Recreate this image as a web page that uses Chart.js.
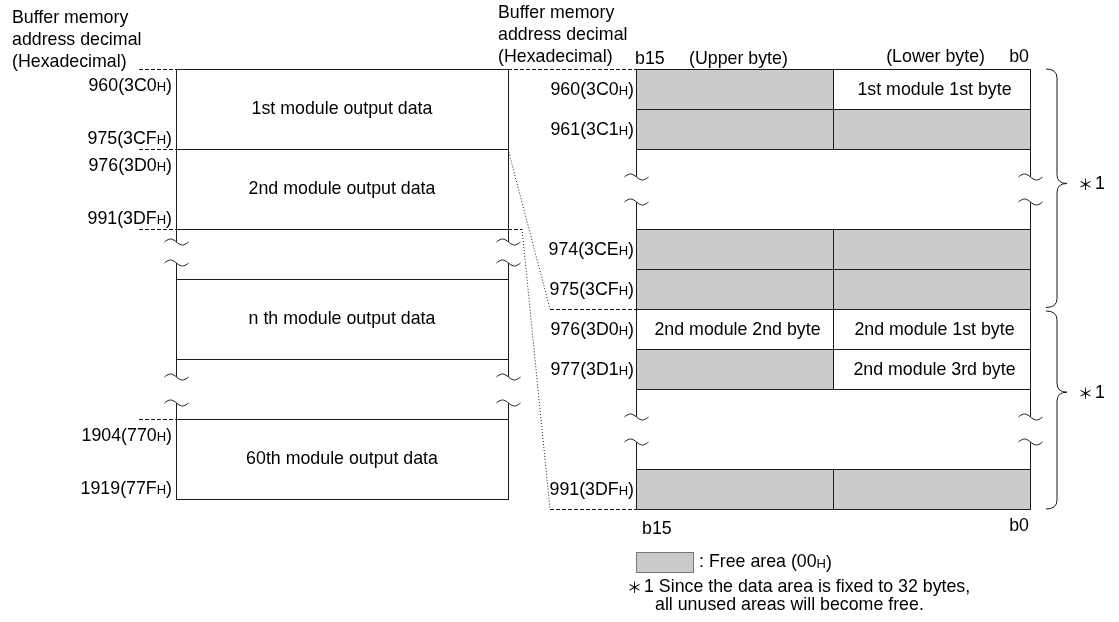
<!DOCTYPE html>
<html>
<head>
<meta charset="utf-8">
<script src="https://cdn.jsdelivr.net/npm/chart.js@4.4.1/dist/chart.umd.min.js"></script>
<style>
  html, body { margin: 0; padding: 0; background: #fff; }
  #wrap { width: 1119px; height: 622px; }
</style>
</head>
<body>
<div id="wrap"><canvas id="mapa" width="1119" height="622"></canvas></div>
<script>
// mapa izquierdo: un bloque por modulo, null = corte
const moduleNames = ['1st', '2nd', null, 'n th', null, '60th'];
const moduleStart = ['960(3C0H)', '976(3D0H)', null, null, null, '1904(770H)'];
const moduleEnd   = ['975(3CFH)', '991(3DFH)', null, null, null, '1919(77FH)'];

// mapa derecho: una fila por palabra, null = corte, '' = area libre
const wordAddr  = ['960(3C0H)', '961(3C1H)', null, '974(3CEH)', '975(3CFH)', '976(3D0H)', '977(3D1H)', null, '991(3DFH)'];
const upperByte = ['', '', null, '', '', '2nd module 2nd byte', '', null, ''];
const lowerByte = ['1st module 1st byte', '', null, '', '', '2nd module 1st byte', '2nd module 3rd byte', null, ''];

// llaves *1: desde / hasta
const braceFrom = ['960(3C0H)', '976(3D0H)'];
const braceTo   = ['975(3CFH)', '991(3DFH)'];

const headerLines = ['Buffer memory', 'address decimal', '(Hexadecimal)'];
const noteLines = ['Since the data area is fixed to 32 bytes,', 'all unused areas will become free.'];

// layout (pixeles en x, filas de 40px en y)
const L = {
  left: [176, 508], right: [636, 833, 1030],
  leftBreaks: [{ len: 1.25, waves: [0.325, 0.85] }, { len: 1.5, waves: [0.45, 1.1] }],
  rightBreak: { len: 2, waves: [0.7, 1.325] },
  font: '"Liberation Sans", Arial, sans-serif', size: 17.8,
  star: '"Noto Sans CJK JP", "Noto Sans CJK SC", sans-serif',
  grey: '#cbcbcb', line: '#1a1a1a'
};

function drawLabel(ctx, label, xr, yc, size) {
  // '960(3C0H)' -> H pequeña
  const m = label.match(/^(.*)H\)$/);
  const big = size + 'px ' + L.font, small = Math.round(size * 0.72) + 'px ' + L.font;
  ctx.textAlign = 'left';
  ctx.textBaseline = 'alphabetic';
  const base = yc + size * 0.36;
  ctx.font = big; const wEnd = ctx.measureText(')').width; const wMain = ctx.measureText(m[1]).width;
  ctx.font = small; const wH = ctx.measureText('H').width;
  let x = xr - wEnd - wH - wMain;
  ctx.font = big; ctx.fillText(m[1], x, base); x += wMain;
  ctx.font = small; ctx.fillText('H', x, base); x += wH;
  ctx.font = big; ctx.fillText(')', x, base);
}

// asterisco de nota (*1), devuelve el ancho
function star(ctx, x, yc) {
  ctx.save();
  ctx.font = '15px ' + L.star;
  ctx.textAlign = 'left'; ctx.textBaseline = 'middle';
  ctx.fillText('\uFF0A', x, yc);
  const w = ctx.measureText('\uFF0A').width;
  ctx.restore();
  return w;
}

function wave(ctx, cx, cy) {
  ctx.beginPath();
  for (let t = 0; t <= 1.0001; t += 0.05) {
    const xx = cx - 12 + 24 * t, yy = cy - 3 * Math.sin(2 * Math.PI * t);
    if (t === 0) ctx.moveTo(xx, yy); else ctx.lineTo(xx, yy);
  }
  ctx.stroke();
}

function seg(ctx, x1, y1, x2, y2, dash) {
  ctx.save();
  ctx.setLineDash(dash || []);
  ctx.beginPath(); ctx.moveTo(x1, y1); ctx.lineTo(x2, y2); ctx.stroke();
  ctx.restore();
}

function brace(ctx, x0, yTop, yBot, yTip) {
  const xm = x0 + 11, xt = x0 + 21;
  ctx.beginPath();
  ctx.moveTo(x0, yTop);
  ctx.quadraticCurveTo(xm, yTop, xm, yTop + 9);
  ctx.lineTo(xm, yTip - 9);
  ctx.quadraticCurveTo(xm, yTip, xt, yTip);
  ctx.quadraticCurveTo(xm, yTip, xm, yTip + 9);
  ctx.lineTo(xm, yBot - 9);
  ctx.quadraticCurveTo(xm, yBot, x0, yBot);
  ctx.stroke();
}

const mapaPlugin = {
  id: 'mapa',
  afterDraw(chart) {
    const { ctx, scales: { x, y } } = chart;
    const px = v => x.getPixelForValue(v);
    const py = v => y.getPixelForValue(v);
    const fs = L.size;
    ctx.save();
    ctx.strokeStyle = L.line;
    ctx.fillStyle = '#000';
    ctx.lineWidth = 1;

    // encabezados
    ctx.font = fs + 'px ' + L.font;
    ctx.textAlign = 'left'; ctx.textBaseline = 'middle';
    headerLines.forEach((t, i) => ctx.fillText(t, px(12), py(-1.275 + i * 0.55)));
    headerLines.forEach((t, i) => ctx.fillText(t, px(498), py(-1.4 + i * 0.55)));
    ctx.fillText('b15', px(635), py(-0.25));
    ctx.fillText('(Upper byte)', px(689), py(-0.25));
    ctx.textAlign = 'right';
    ctx.fillText('(Lower byte)', px(985), py(-0.3));
    ctx.fillText('b0', px(1029), py(-0.3));

    // ---- mapa izquierdo
    const [lx0, lx1] = L.left.map(px);
    let cur = 0, bi = 0;
    const boxes = [];
    moduleNames.forEach((name, i) => {
      if (name) {
        const top = cur, bot = cur + 2;
        boxes.push({ i, top, bot });
        ctx.strokeRect(lx0 + 0.5, py(top) + 0.5, lx1 - lx0, py(bot) - py(top));
        ctx.font = fs + 'px ' + L.font;
        ctx.textAlign = 'center'; ctx.textBaseline = 'middle';
        ctx.fillText(name + ' module output data', (lx0 + lx1) / 2, py(top + 1));
        if (moduleStart[i]) {
          drawLabel(ctx, moduleStart[i], px(172), py(top) + 16, fs);
          drawLabel(ctx, moduleEnd[i], px(172), py(bot) - 11, fs);
          seg(ctx, px(139), py(top) + 0.5, lx0, py(top) + 0.5, [4, 2]);
          if (moduleNames[i + 1] === null) seg(ctx, px(139), py(bot) + 0.5, lx0, py(bot) + 0.5, [4, 2]);
        }
        cur = bot;
      } else {
        const b = L.leftBreaks[bi++];
        [lx0, lx1].forEach(xx => {
          seg(ctx, xx + 0.5, py(cur), xx + 0.5, py(cur + b.waves[0]));
          seg(ctx, xx + 0.5, py(cur + b.waves[1]), xx + 0.5, py(cur + b.len));
          b.waves.forEach(w => wave(ctx, xx + 0.5, py(cur + w)));
        });
        cur += b.len;
      }
    });

    // ---- mapa derecho
    const [r0, r1, r2] = L.right.map(px);
    const rowTop = {};
    cur = 0;
    wordAddr.forEach((addr, i) => {
      if (addr) {
        const t = py(cur), b = py(cur + 1);
        rowTop[addr] = cur;
        [[r0, r1, upperByte[i]], [r1, r2, lowerByte[i]]].forEach(([a, c, txt]) => {
          ctx.fillStyle = txt ? '#fff' : L.grey;
          ctx.fillRect(a, t, c - a, b - t);
          ctx.strokeRect(a + 0.5, t + 0.5, c - a, b - t);
          if (txt) {
            ctx.fillStyle = '#000';
            ctx.font = fs + 'px ' + L.font;
            ctx.textAlign = 'center'; ctx.textBaseline = 'middle';
            ctx.fillText(txt, (a + c) / 2 + 3, (t + b) / 2 + 1);
          }
        });
        ctx.fillStyle = '#000';
        drawLabel(ctx, addr, px(634), (t + b) / 2, fs);
        cur += 1;
      } else {
        const b = L.rightBreak;
        [r0, r2].forEach(xx => {
          seg(ctx, xx + 0.5, py(cur), xx + 0.5, py(cur + b.waves[0]));
          seg(ctx, xx + 0.5, py(cur + b.waves[1]), xx + 0.5, py(cur + b.len));
          b.waves.forEach(w => wave(ctx, xx + 0.5, py(cur + w)));
        });
        cur += b.len;
      }
    });
    const rightEnd = cur;
    ctx.fillStyle = '#000';
    ctx.font = fs + 'px ' + L.font;
    ctx.textAlign = 'left'; ctx.textBaseline = 'middle';
    ctx.fillText('b15', px(642), py(rightEnd + 0.5));
    ctx.textAlign = 'right';
    ctx.fillText('b0', px(1029), py(rightEnd + 0.42));

    // ---- conectores (bloque 2 -> filas 976..991)
    const b1 = boxes[0], b2 = boxes[1];
    const expTop = rowTop[moduleStart[b2.i]], expBot = rightEnd;
    seg(ctx, lx1, py(b1.top) + 0.5, r0, py(rowTop[moduleStart[b1.i]]) + 0.5, [4, 2]);
    seg(ctx, lx1, py(b2.top), px(550), py(expTop), [1, 2]);
    seg(ctx, px(550), py(expTop) + 0.5, r0, py(expTop) + 0.5, [4, 2]);
    seg(ctx, lx1, py(b2.bot) + 0.5, px(522), py(b2.bot) + 0.5, [4, 2]);
    seg(ctx, px(522), py(b2.bot), px(550), py(expBot), [1, 2]);
    seg(ctx, px(550), py(expBot) + 0.5, r0, py(expBot) + 0.5, [4, 2]);

    // ---- llaves *1
    braceFrom.forEach((f, k) => {
      const t = py(rowTop[f]) + (k ? 2 : 0);
      const endRow = rowTop[braceTo[k]] + 1;
      const b = py(endRow) - (k ? 0 : 1.5);
      const tip = t + (b - t) * (k ? 0.41 : 0.48);
      brace(ctx, px(1046), t, b, tip);
      const sw = star(ctx, px(1078), tip + 1);
      ctx.font = fs + 'px ' + L.font;
      ctx.textAlign = 'left'; ctx.textBaseline = 'middle';
      ctx.fillText('1', px(1078) + sw + 2, tip + 1);
    });

    // ---- leyenda y nota
    const ly = py(rightEnd + 1.075);
    ctx.fillStyle = L.grey;
    ctx.fillRect(r0, ly, px(693) - r0, 20);
    ctx.strokeStyle = '#777';
    ctx.strokeRect(r0 + 0.5, ly + 0.5, px(693) - r0, 20);
    ctx.fillStyle = '#000';
    ctx.font = fs + 'px ' + L.font;
    ctx.textAlign = 'left'; ctx.textBaseline = 'middle';
    const fx = px(699), fy = ly + 10;
    ctx.fillText(': Free area (00', fx, fy);
    let w = ctx.measureText(': Free area (00').width;
    ctx.font = Math.round(fs * 0.72) + 'px ' + L.font;
    ctx.textBaseline = 'alphabetic';
    ctx.fillText('H', fx + w, fy + fs * 0.36);
    w += ctx.measureText('H').width;
    ctx.font = fs + 'px ' + L.font;
    ctx.fillText(')', fx + w, fy + fs * 0.36);
    ctx.textBaseline = 'middle';
    const ny = py(rightEnd + 1.95);
    const sw = star(ctx, px(627), ny);
    ctx.font = fs + 'px ' + L.font;
    ctx.fillText('1 ' + noteLines[0], px(627) + sw + 2, ny);
    ctx.fillText(noteLines[1], px(655), py(rightEnd + 2.4));

    ctx.restore();
  }
};

new Chart(document.getElementById('mapa'), {
  type: 'scatter',
  data: { datasets: [] },
  options: {
    responsive: false,
    animation: false,
    layout: { padding: 0 },
    plugins: { legend: { display: false }, tooltip: { enabled: false } },
    scales: {
      x: { type: 'linear', min: 0, max: 1119, display: false },
      y: { type: 'linear', min: -69 / 40, max: -69 / 40 + 622 / 40, reverse: true, display: false }
    }
  },
  plugins: [mapaPlugin]
});
</script>
</body>
</html>
